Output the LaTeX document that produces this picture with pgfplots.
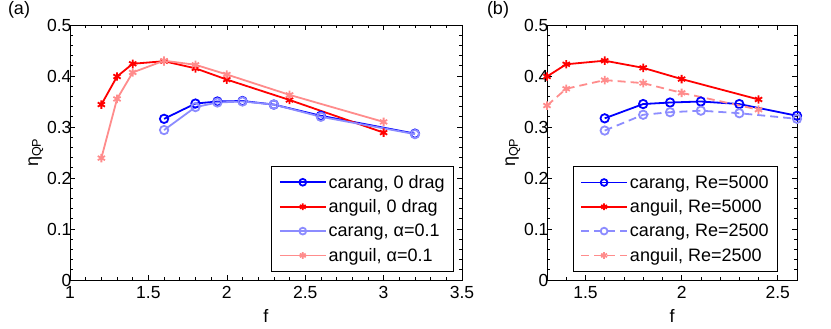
\documentclass[border=0pt]{standalone}
\usepackage{pgfplots}
\pgfplotsset{compat=1.18}
\usepackage{fontspec}
\setmainfont{Liberation Sans}

\definecolor{lblue}{RGB}{140,140,255}
\definecolor{lred}{RGB}{255,140,140}

\pgfplotsset{
    panel/.style={
        scale only axis,
        anchor=south west,
        height=255pt,
        ymin=0, ymax=0.5,
        ytick={0,0.1,...,0.5},
        yticklabels={0,0.1,0.2,0.3,0.4,0.5},
        minor x tick num=4,
        minor y tick num=4,
        major tick length=5pt,
        minor tick length=3pt,
        tick align=inside,
        axis line style={line width=0.8pt},
        every tick/.style={black, line width=0.6pt},
        /pgf/number format/assume math mode=true,
        tick label style={font=\fontsize{17.5}{21}\selectfont},
        yticklabel style={xshift=5pt},
        xticklabel style={yshift=-3pt},
        label style={font=\fontsize{18}{21}\selectfont},
        xlabel={f},
        ylabel={η\textsubscript{QP}},
        xlabel style={yshift=-4pt},
        ylabel style={yshift=-3pt},
        legend cell align=left,
        legend style={draw=black, line width=0.8pt, font=\fontsize{18}{21}\selectfont,
            inner xsep=7pt, inner ysep=7pt, row sep=6pt},
        legend image code/.code={
            \draw[mark repeat=2, mark phase=2, line width=1.8pt, #1, mark size=3.4pt]
                plot coordinates {(0pt,0pt) (23pt,0pt) (46pt,0pt)};
        },
        every axis plot/.append style={line width=1.8pt},
    },
    carang/.style={mark=o, mark size=4.2pt, mark options={solid}},
    anguil/.style={mark=asterisk, mark size=4.2pt, mark options={solid}},
}

\begin{document}
\begin{tikzpicture}
\useasboundingbox (0pt,0pt) rectangle (831pt,329pt);

\begin{axis}[panel,
    at={(70pt,49pt)},
    width=392pt,
    xmin=1, xmax=3.5,
    xtick={1,1.5,...,3.5},
    xticklabels={1,1.5,2,2.5,3,3.5},
    legend style={at={(0.98,0.031)}, anchor=south east},
]
\addplot[blue, carang] coordinates {
    (1.6,0.316) (1.8,0.346) (1.94,0.350) (2.1,0.351) (2.3,0.344) (2.6,0.322) (3.2,0.287)
};
\addplot[red, anguil] coordinates {
    (1.2,0.344) (1.3,0.399) (1.4,0.424) (1.6,0.429) (1.8,0.415) (2.0,0.393) (2.4,0.353) (3.0,0.289)
};
\addplot[lblue, carang] coordinates {
    (1.6,0.294) (1.8,0.339) (1.94,0.348) (2.1,0.350) (2.3,0.344) (2.6,0.320) (3.2,0.286)
};
\addplot[lred, anguil] coordinates {
    (1.2,0.239) (1.3,0.355) (1.4,0.407) (1.6,0.430) (1.8,0.422) (2.0,0.403) (2.4,0.363) (3.0,0.310)
};
\legend{{carang, 0 drag},{anguil, 0 drag},{carang, α=0.1},{anguil, α=0.1}}
\end{axis}

\begin{axis}[panel,
    at={(547pt,49pt)},
    width=250pt,
    xmin=1.3, xmax=2.6,
    xtick={1.5,2,2.5},
    xticklabels={1.5,2,2.5},
    minor xtick={1.3,1.4,...,2.6},
    minor x tick num=0,
    legend style={at={(0.924,0.031)}, anchor=south east},
]
\addplot[blue, carang] coordinates {
    (1.6,0.317) (1.8,0.345) (1.94,0.348) (2.1,0.350) (2.3,0.345) (2.6,0.322)
};
\addplot[red, anguil] coordinates {
    (1.3,0.399) (1.4,0.423) (1.6,0.430) (1.8,0.416) (2.0,0.394) (2.4,0.354)
};
\addplot[lblue, carang, dash pattern=on 8pt off 5pt] coordinates {
    (1.6,0.293) (1.8,0.324) (1.94,0.329) (2.1,0.332) (2.3,0.327) (2.6,0.316)
};
\addplot[lred, anguil, dash pattern=on 8pt off 5pt] coordinates {
    (1.3,0.342) (1.4,0.375) (1.6,0.392) (1.8,0.386) (2.0,0.367) (2.4,0.334)
};
\legend{{carang, Re=5000},{anguil, Re=5000},{carang, Re=2500},{anguil, Re=2500}}
\end{axis}

\node[font=\fontsize{18}{21}\selectfont] at (19pt,319pt) {(a)};
\node[font=\fontsize{18}{21}\selectfont] at (498pt,319pt) {(b)};
\end{tikzpicture}
\end{document}
